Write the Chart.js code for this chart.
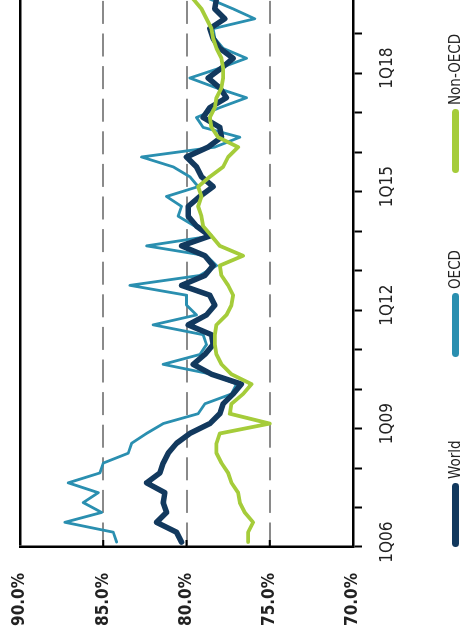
<!DOCTYPE html>
<html>
<head>
<meta charset="utf-8">
<script src="https://cdn.jsdelivr.net/npm/chart.js@4.4.0/dist/chart.umd.min.js"></script>
<style>
  body { margin: 0; background: #fff; overflow: hidden; width: 464px; height: 638px; }
  /* the chart is laid out flat and then turned a quarter turn, like the source picture */
  #wrap {
    position: absolute; left: 0; top: 0;
    width: 638px; height: 464px;
    transform-origin: 0 0;
    transform: translateY(638px) rotate(-90deg);
  }
  #legend { position: absolute; top: 445px; left: 0; width: 638px; height: 20px;
    font-family: 'DejaVu Sans Condensed', 'DejaVu Sans', sans-serif; font-size: 15px; color: #222; }
  .item { position: absolute; top: 0; display: flex; align-items: center; height: 20px; }
  .sym { width: 64px; height: 7px; border-radius: 4px; margin-right: 4px; }
</style>
</head>
<body>
<div id="wrap">
  <canvas id="chart" width="638" height="464"></canvas>
  <div id="legend"></div>
</div>
<script>
const seriesNames = ['World', 'OECD', 'Non-OECD'];
const seriesColors = ['#12395e', '#2a8fb0', '#a5cc3a'];
const seriesWidths = [5.5, 2.8, 3.8];

const years = ['06', '07', '08', '09', '10', '11', '12', '13', '14', '15', '16', '17', '18', '19'];
const quarters = years.flatMap(y => ['1Q', '2Q', '3Q', '4Q'].map(q => q + y));

const world = [80.3, 80.6, 81.8, 81.2, 81.4, 81.3, 82.4, 81.6, 81.4, 81.1,
  80.6, 79.8, 78.6, 78.0, 77.8, 77.2, 76.7, 78.5, 79.6, 78.9,
  78.4, 78.5, 79.9, 78.8, 78.3, 78.6, 80.3, 78.9, 78.4, 78.9,
  80.3, 78.6, 79.4, 79.9, 79.9, 79.2, 78.4, 79.1, 79.4, 80.0,
  78.7, 77.9, 78.0, 79.0, 78.6, 77.6, 78.0, 78.7, 77.9, 77.2,
  78.0, 78.4, 78.6, 77.7, 78.3, 78.2];
const oecd = [84.2, 84.4, 87.3, 85.1, 86.2, 85.3, 87.1, 85.2, 85.0, 83.5,
  83.3, 82.4, 81.4, 79.3, 78.9, 77.3, 77.0, 78.5, 81.4, 79.2,
  78.8, 79.0, 82.0, 79.4, 80.0, 80.0, 83.4, 79.2, 78.2, 78.8,
  82.4, 78.5, 79.5, 80.5, 80.3, 81.2, 79.3, 79.8, 80.8, 82.7,
  78.3, 76.8, 79.0, 79.4, 78.0, 76.4, 78.2, 79.8, 78.0, 76.4,
  77.8, 78.3, 78.4, 75.9, 77.2, 78.6];
const nonOecd = [76.3, 76.3, 76.0, 76.5, 76.8, 76.9, 77.3, 77.5, 77.9, 78.2,
  78.2, 78.0, 75.0, 77.4, 77.3, 76.6, 76.1, 77.3, 77.9, 78.2,
  78.3, 78.3, 78.2, 77.6, 77.3, 77.2, 77.5, 77.9, 78.0, 76.6,
  78.0, 78.5, 79.0, 79.1, 79.3, 79.1, 79.3, 78.6, 77.8, 77.5,
  76.9, 78.1, 78.5, 78.6, 78.3, 78.2, 77.9, 77.8, 77.8, 77.9,
  78.2, 78.4, 78.5, 78.8, 79.1, 79.6];

const valueMin = 70, valueMax = 90, valueStep = 5;
const seriesData = [world, oecd, nonOecd];
const drawOrder = [1, 2, 0];   // lime on top, then navy, teal underneath

const narrow = "'DejaVu Sans Condensed', 'DejaVu Sans', sans-serif";

// short black ticks that point into the plot from the value axis
const innerTicks = {
  id: 'innerTicks',
  beforeDatasetsDraw(chart) {
    const { ctx, chartArea, scales } = chart;
    ctx.save();
    ctx.strokeStyle = '#000';
    ctx.lineWidth = 2;
    for (let v = valueMin + valueStep; v < valueMax; v += valueStep) {
      const y = scales.y.getPixelForValue(v);
      ctx.beginPath();
      ctx.moveTo(chartArea.left, y);
      ctx.lineTo(chartArea.left + 7, y);
      ctx.stroke();
    }
    ctx.restore();
  }
};

const ctx = document.getElementById('chart').getContext('2d');
const chart = new Chart(ctx, {
  type: 'line',
  data: {
    datasets: seriesNames.map((name, i) => ({
      label: name,
      data: seriesData[i].map((v, q) => ({ x: q, y: v })),
      borderColor: seriesColors[i],
      backgroundColor: seriesColors[i],
      borderWidth: seriesWidths[i],
      pointRadius: 0,
      tension: 0,
      borderJoinStyle: 'round',
      borderCapStyle: 'round',
      order: drawOrder[i]
    }))
  },
  options: {
    responsive: false,
    devicePixelRatio: 1,
    animation: false,
    layout: { padding: { left: 12, right: 0, top: 20, bottom: 61 } },
    plugins: { legend: { display: false }, tooltip: { enabled: false } },
    scales: {
      x: {
        type: 'linear',
        min: -0.5,
        max: 54.9,
        afterBuildTicks: s => {
          const t = [];
          for (let b = -0.5; b <= s.max; b += 4) t.push({ value: b });
          s.ticks = t;
        },
        afterFit: s => { s.height = 50; },
        ticks: {
          autoSkip: false,
          maxRotation: 0,
          labelOffset: 4.9,
          padding: 15,
          color: '#222',
          font: { family: narrow, size: 17 },
          callback: (v, i) => (i % 3 === 0 ? quarters[v + 0.5] : '')
        },
        grid: { drawOnChartArea: false, tickLength: 9, tickColor: '#000', tickWidth: 2 },
        border: { color: '#000', width: 2.5 }
      },
      y: {
        min: valueMin,
        max: valueMax,
        ticks: {
          stepSize: valueStep,
          padding: 0,
          crossAlign: 'far',
          color: '#222',
          font: { family: narrow, size: 17, weight: 'bold' },
          callback: v => v.toFixed(1) + '%'
        },
        afterFit: s => { s.width = 79; },
        grid: {
          drawTicks: false,
          color: c => (c.tick && c.tick.value === valueMax ? '#000'
            : c.tick && c.tick.value === valueMin ? 'rgba(0,0,0,0)' : '#8a8a8a'),
          lineWidth: c => (c.tick && c.tick.value === valueMax ? 2.5 : 2)
        },
        border: {
          color: '#000',
          width: 2.5,
          dash: c => (c.tick && c.tick.value !== valueMax ? [23, 9.6] : [])
        }
      }
    }
  },
  plugins: [innerTicks]
});

// legend, built from the same series lists
const legendPos = [91, 281, 465];
const legend = document.getElementById('legend');
seriesNames.forEach((name, i) => {
  const item = document.createElement('div');
  item.className = 'item';
  item.style.left = legendPos[i] + 'px';
  item.innerHTML = '<span class="sym" style="background:' + seriesColors[i] + '"></span><span>' + name + '</span>';
  legend.appendChild(item);
});
</script>
</body>
</html>
